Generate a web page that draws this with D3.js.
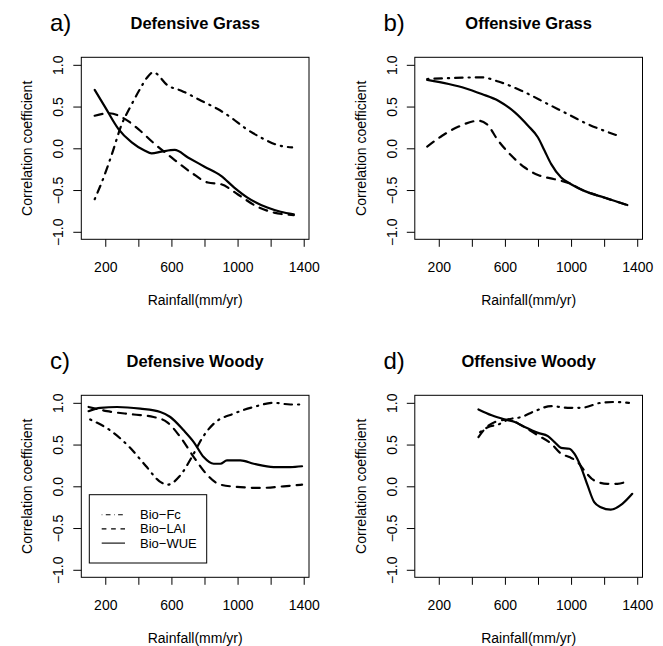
<!DOCTYPE html>
<html>
<head>
<meta charset="utf-8">
<script src="https://cdn.jsdelivr.net/npm/d3@7"></script>
<style>
  body { margin: 0; background: #fff; }
  svg { display: block; font-family: "Liberation Sans", Arial, sans-serif; }
</style>
</head>
<body>
<div id="wrapper"></div>
<script>
// rainfall (mm/yr) vs correlation coefficient
const defGrassFc  = [[136,-0.61],[190,-0.35],[240,-0.07],[300,0.29],[350,0.49],[410,0.71],[450,0.84],[490,0.91],[580,0.75],[660,0.69],[780,0.57],[880,0.47],[960,0.37],[1040,0.25],[1140,0.13],[1240,0.04],[1330,0.01]];
const defGrassLai = [[136,0.39],[220,0.42],[320,0.35],[400,0.23],[500,0.05],[600,-0.11],[720,-0.29],[820,-0.41],[900,-0.43],[1000,-0.55],[1120,-0.70],[1220,-0.77],[1340,-0.80]];
const defGrassWue = [[136,0.70],[200,0.49],[280,0.23],[360,0.07],[440,-0.03],[480,-0.06],[540,-0.04],[620,-0.02],[700,-0.11],[800,-0.22],[900,-0.33],[980,-0.47],[1060,-0.59],[1180,-0.71],[1260,-0.76],[1340,-0.79]];

const offGrassFc  = [[130,0.83],[260,0.84],[460,0.85],[560,0.80],[700,0.69],[860,0.53],[980,0.41],[1100,0.29],[1200,0.21],[1300,0.14]];
const offGrassLai = [[130,0.02],[220,0.15],[320,0.26],[440,0.33],[490,0.29],[560,0.09],[640,-0.09],[720,-0.23],[800,-0.32],[900,-0.37],[990,-0.42],[1080,-0.51],[1200,-0.59],[1340,-0.68]];
const offGrassWue = [[130,0.82],[260,0.77],[360,0.72],[460,0.65],[560,0.57],[660,0.43],[740,0.27],[800,0.13],[840,-0.03],[880,-0.19],[940,-0.35],[1000,-0.43],[1080,-0.51],[1200,-0.59],[1340,-0.68]];

const defWoodyFc  = [[109,0.80],[230,0.67],[346,0.47],[447,0.24],[528,0.06],[578,0.02],[649,0.12],[729,0.37],[790,0.59],[856,0.75],[976,0.87],[1098,0.95],[1218,1.00],[1319,0.98],[1390,0.98]];
const defWoodyLai = [[99,0.95],[210,0.90],[372,0.86],[492,0.83],[573,0.77],[654,0.59],[735,0.35],[815,0.14],[896,0.02],[1017,-0.01],[1138,-0.02],[1279,0.00],[1390,0.02]];
const defWoodyWue = [[99,0.90],[170,0.94],[271,0.95],[412,0.93],[533,0.89],[593,0.83],[674,0.67],[735,0.53],[795,0.35],[856,0.27],[896,0.27],[936,0.31],[1017,0.31],[1098,0.27],[1218,0.23],[1319,0.23],[1390,0.24]];

const offWoodyFc  = [[450,0.65],[500,0.71],[560,0.74],[620,0.80],[700,0.83],[780,0.90],[880,0.96],[980,0.94],[1060,0.94],[1180,1.00],[1260,1.01],[1350,1.00]];
const offWoodyLai = [[440,0.59],[480,0.69],[540,0.77],[620,0.80],[700,0.73],[800,0.61],[880,0.51],[940,0.39],[990,0.35],[1040,0.29],[1080,0.19],[1140,0.07],[1220,0.03],[1280,0.03],[1340,0.06]];
const offWoodyWue = [[440,0.92],[520,0.85],[600,0.80],[660,0.77],[720,0.71],[800,0.64],[860,0.60],[900,0.53],[940,0.46],[990,0.45],[1020,0.39],[1060,0.23],[1100,0.01],[1140,-0.19],[1180,-0.25],[1240,-0.28],[1310,-0.21],[1370,-0.09]];

const panelTitles  = ["Defensive Grass", "Offensive Grass", "Defensive Woody", "Offensive Woody"];
const panelLetters = ["a)", "b)", "c)", "d)"];
const seriesNames  = ["Bio\u2212Fc", "Bio\u2212LAI", "Bio\u2212WUE"];
const xTicks = [200, 400, 600, 800, 1000, 1200, 1400];
const xTickLabels = [200, 600, 1000, 1400];
const yTicks = [-1, -0.5, 0, 0.5, 1];

const panelData = [
  [defGrassFc, defGrassLai, defGrassWue],
  [offGrassFc, offGrassLai, offGrassWue],
  [defWoodyFc, defWoodyLai, defWoodyWue],
  [offWoodyFc, offWoodyLai, offWoodyWue],
];

const dashes = ["1.2,6,7.5,6", "8,7", null];
const legendDashes = ["0.6,3.5,4.7,3.5", "4.7,4.7", null];

const width = 663, height = 646;
const box = { left: 81.3, right: 309, top: 57.3, bottom: 239.3 };
const offsets = [[0, 0], [333.5, 0], [0, 338], [333.5, 338]];

const svg = d3.select("#wrapper").append("svg")
  .attr("width", width)
  .attr("height", height);

const xScale = d3.scaleLinear().domain([55, 1432]).range([box.left, box.right]);
const yScale = d3.scaleLinear().domain([-1.09, 1.09]).range([box.bottom, box.top]);

const lineGenerator = d3.line()
  .x(d => xScale(d[0]))
  .y(d => yScale(d[1]))
  .curve(d3.curveMonotoneX);

panelData.forEach((series, i) => {
  const g = svg.append("g")
    .attr("transform", `translate(${offsets[i][0]},${offsets[i][1]})`);

  // x axis
  const xAxis = g.append("g")
    .attr("transform", `translate(0,${box.bottom})`)
    .call(d3.axisBottom(xScale)
      .tickValues(xTicks)
      .tickSizeOuter(0)
      .tickSize(7.5)
      .tickPadding(15)
      .tickFormat(d => xTickLabels.includes(d) ? d : ""));
  xAxis.select(".domain").remove();
  xAxis.selectAll("text").attr("font-size", 14).attr("fill", "#000");

  // y axis with rotated labels
  const yAxis = g.append("g")
    .attr("transform", `translate(${box.left},0)`)
    .call(d3.axisLeft(yScale)
      .tickValues(yTicks)
      .tickSizeOuter(0)
      .tickSize(8)
      .tickFormat(d3.format(".1f")));
  yAxis.select(".domain").remove();
  yAxis.selectAll("text")
    .attr("x", null)
    .attr("dy", null)
    .attr("text-anchor", "middle")
    .attr("transform", "translate(-18.3,0) rotate(-90)")
    .attr("font-size", 14)
    .attr("fill", "#000");

  g.append("rect")
    .attr("x", box.left)
    .attr("y", box.top)
    .attr("width", box.right - box.left)
    .attr("height", box.bottom - box.top)
    .attr("fill", "none")
    .attr("stroke", "#000")
    .attr("stroke-width", 1);

  series.forEach((data, k) => {
    g.append("path")
      .attr("d", lineGenerator(data))
      .attr("fill", "none")
      .attr("stroke", "#000")
      .attr("stroke-width", 2.2)
      .attr("stroke-linecap", "round")
      .attr("stroke-dasharray", dashes[k]);
  });

  g.append("text")
    .attr("x", (box.left + box.right) / 2)
    .attr("y", 29)
    .attr("text-anchor", "middle")
    .attr("font-size", 16.5)
    .attr("font-weight", "bold")
    .text(panelTitles[i]);

  g.append("text")
    .attr("x", 50)
    .attr("y", 31)
    .attr("font-size", 24)
    .text(panelLetters[i]);

  g.append("text")
    .attr("x", (box.left + box.right) / 2)
    .attr("y", 305)
    .attr("text-anchor", "middle")
    .attr("font-size", 14)
    .text("Rainfall(mm/yr)");

  g.append("text")
    .attr("transform", `translate(32,${(box.top + box.bottom) / 2}) rotate(-90)`)
    .attr("text-anchor", "middle")
    .attr("font-size", 14)
    .text("Correlation coefficient");

  // legend only in panel c
  if (i === 2) {
    const legend = g.append("g");
    legend.append("rect")
      .attr("x", 89.3)
      .attr("y", 156.7)
      .attr("width", 117.4)
      .attr("height", 68.3)
      .attr("fill", "#fff")
      .attr("stroke", "#000");
    seriesNames.forEach((name, k) => {
      const y = 176.7 + k * 14.2;
      legend.append("line")
        .attr("x1", 101.7).attr("x2", 125)
        .attr("y1", y).attr("y2", y)
        .attr("stroke", "#000")
        .attr("stroke-width", 1.1)
        .attr("stroke-dasharray", legendDashes[k]);
      legend.append("text")
        .attr("x", 140)
        .attr("y", y + 4.5)
        .attr("font-size", 13)
        .text(name);
    });
  }
});
</script>
</body>
</html>
